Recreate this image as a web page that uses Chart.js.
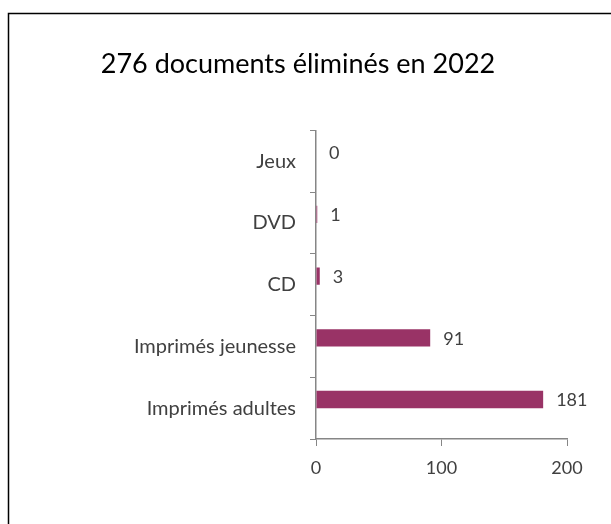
<!DOCTYPE html>
<html lang="fr">
<head>
<meta charset="utf-8">
<title>276 documents éliminés en 2022</title>
<script src="https://cdn.jsdelivr.net/npm/chart.js@4/dist/chart.umd.min.js"></script>
<style>
    html, body { margin: 0; padding: 0; background: #ffffff; }
    #wrap { position: relative; width: 611px; height: 524px; }
</style>
</head>
<body>
<div id="wrap"><canvas id="chart" width="611" height="524"></canvas></div>
<script>
// Données
const categories = ['Jeux', 'DVD', 'CD', 'Imprimés jeunesse', 'Imprimés adultes'];
const documentsElimines = [0, 1, 3, 91, 181];
// série vide qui occupe la seconde place de chaque catégorie (comme dans Excel)
const serieVide = [null, null, null, null, null];
const xTicks = [0, 100, 200];
const titre = '276 documents éliminés en 2022';

const FONT = 'Lato, "Open Sans", sans-serif';
const GRIS_TEXTE = '#404040';
const GRIS_AXE = '#868686';

// Cadre noir autour du graphique (le bas et la droite sont hors champ)
const cadre = {
    id: 'cadre',
    beforeDraw(chart) {
        const ctx = chart.ctx;
        ctx.save();
        ctx.strokeStyle = '#000000';
        ctx.lineWidth = 1.5;
        ctx.strokeRect(8.5, 13.5, 640, 560);
        ctx.restore();
    }
};

// Étiquettes de valeur au bout des barres
const etiquettes = {
    id: 'etiquettes',
    afterDatasetsDraw(chart) {
        const ctx = chart.ctx;
        const meta = chart.getDatasetMeta(0);
        ctx.save();
        ctx.font = '18px ' + FONT;
        ctx.fillStyle = GRIS_TEXTE;
        ctx.textAlign = 'left';
        ctx.textBaseline = 'middle';
        meta.data.forEach((bar, i) => {
            ctx.fillText(String(documentsElimines[i]), bar.x + 13, bar.y + 1);
        });
        ctx.restore();
    }
};

new Chart(document.getElementById('chart'), {
    type: 'bar',
    data: {
        labels: categories,
        datasets: [{
            data: documentsElimines,
            backgroundColor: '#993366',
            borderWidth: 0,
            barPercentage: 1,
            categoryPercentage: 0.56
        }, {
            data: serieVide,
            backgroundColor: 'rgba(0,0,0,0)',
            borderWidth: 0,
            barPercentage: 1,
            categoryPercentage: 0.56
        }]
    },
    options: {
        indexAxis: 'y',
        responsive: false,
        animation: false,
        layout: {
            padding: { top: 14, left: 29, right: 44, bottom: 0 }
        },
        plugins: {
            legend: { display: false },
            tooltip: { enabled: false },
            title: {
                display: true,
                text: titre,
                color: '#000000',
                font: { family: FONT, size: 27, weight: 'normal' },
                padding: { top: 34, bottom: 50 }
            }
        },
        scales: {
            y: {
                afterFit: (s) => { s.width = 287; },
                grid: {
                    drawOnChartArea: false,
                    drawTicks: true,
                    tickLength: 6,
                    color: GRIS_AXE,
                    offset: true
                },
                border: { display: true, color: GRIS_AXE, width: 1.5 },
                ticks: {
                    color: GRIS_TEXTE,
                    font: { family: FONT, size: 20 },
                    padding: 14
                }
            },
            x: {
                min: 0,
                max: 200,
                afterFit: (s) => { s.height = 85; },
                afterBuildTicks: (s) => { s.ticks = xTicks.map(v => ({ value: v })); },
                grid: {
                    drawOnChartArea: false,
                    drawTicks: true,
                    tickLength: 7,
                    color: GRIS_AXE
                },
                border: { display: true, color: GRIS_AXE, width: 1.5 },
                ticks: {
                    color: GRIS_TEXTE,
                    font: { family: FONT, size: 18 },
                    padding: 11
                }
            }
        }
    },
    plugins: [cadre, etiquettes]
});
</script>
</body>
</html>
